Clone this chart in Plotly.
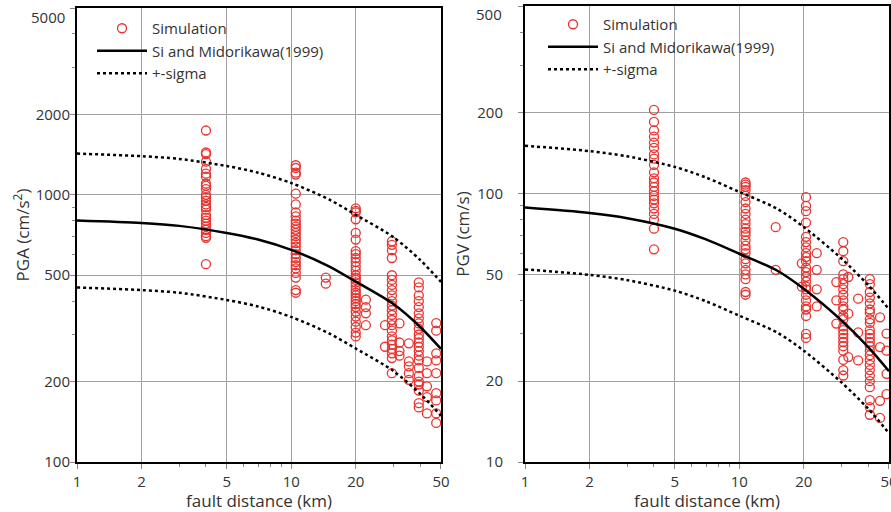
import plotly.graph_objects as go
import numpy as np

# ---------------- data ----------------
curve_x = [1, 2, 3, 5, 7, 10, 15, 20, 30, 40, 50]

pga_median = [801, 784, 765, 720, 680, 622, 540, 473, 390, 320, 265]
pga_upper = [1426, 1395, 1362, 1282, 1210, 1107, 961, 842, 694, 570, 472]
pga_lower = [450, 440, 430, 404, 382, 349, 303, 266, 219, 180, 149]

pgv_median = [88.7, 84.7, 81, 74, 67.5, 59.7, 51.7, 44.2, 33.7, 26.8, 21.8]
pgv_upper = [150.8, 144, 137.7, 125.8, 114.8, 101.5, 87.9, 75.1, 57.3, 45.6, 37.1]
pgv_lower = [52.2, 49.8, 47.6, 43.5, 39.7, 35.1, 30.4, 26.0, 19.8, 15.8, 12.8]

# simulation points: (distance, list of values)
pga_groups = [
    (4.0, [1740, 1440, 1420, 1330, 1250, 1200, 1170, 1100, 1080, 1050, 1000, 980,
           950, 920, 900, 880, 840, 820, 800, 780, 760, 740, 720, 700, 690, 550]),
    (10.5, [1290, 1260, 1210, 1190, 1010, 920, 860, 830, 800, 780, 760, 740, 720,
            700, 680, 660, 640, 620, 600, 580, 560, 545, 530, 510, 490, 440, 430]),
    (14.5, [490, 465]),
    (20.0, [890, 870, 860, 810, 720, 680, 615, 600, 580, 560, 540, 520, 500, 490,
            480, 470, 455, 440, 430, 420, 410, 400, 390, 380, 365, 350, 335, 320, 305, 295]),
    (22.3, [405, 380, 360, 325]),
    (27.4, [325, 270]),
    (29.5, [670, 650, 620, 580, 500, 480, 460, 440, 420, 400, 385, 370, 355, 340,
            325, 310, 295, 285, 275, 265, 255, 245, 215]),
    (32.0, [330, 280, 260, 250]),
    (35.4, [278, 238, 228, 215, 203]),
    (39.4, [470, 450, 420, 400, 380, 360, 345, 330, 315, 300, 290, 280, 270, 260,
            250, 240, 225, 210, 200, 195, 185, 166, 160]),
    (43.0, [238, 215, 192, 175, 152]),
    (47.5, [331, 310, 255, 240, 215, 181, 170, 152, 140]),
]

pgv_groups = [
    (4.0, [205, 185, 172, 163, 155, 148, 140, 135, 128, 120, 114, 110, 106, 102,
           98, 95, 92, 88, 84, 80, 74, 62]),
    (10.7, [110, 108, 106, 103, 98, 93, 88, 84, 80, 77, 74, 72, 70, 67, 64, 62,
            60, 57, 55, 52, 50, 48, 43, 42]),
    (14.8, [75, 52]),
    (19.6, [55, 45]),
    (20.5, [97, 90, 86, 78, 69, 66, 63, 60, 58, 56, 53, 51, 49, 47, 45, 44, 42,
            40, 38, 37, 35, 30, 29]),
    (23.0, [60, 52, 44, 38]),
    (28.4, [46.8, 40, 32.8]),
    (30.6, [66, 61, 56, 50, 48, 46, 44, 42, 40, 38, 37, 35, 34, 32, 31, 30, 29,
            28, 27, 26, 24, 22, 21]),
    (32.3, [48.9, 35.7, 24.6]),
    (35.9, [40.6, 30.4, 23.9]),
    (40.7, [48, 46, 43, 41, 39, 37, 36, 34, 33, 31, 30, 29, 28, 27, 26, 25, 24,
            23, 22, 21, 20, 19, 17, 16, 15]),
    (45.4, [34.6, 26.8, 16.9, 14.6]),
    (48.7, [30.1, 26, 21.3, 17.9]),
]

x_tickvals = [1, 2, 5, 10, 20, 50]
x_minor = [3, 4, 6, 7, 8, 9, 30, 40]
pga_tickvals = [100, 200, 500, 1000, 2000, 5000]
pga_minor = [300, 400, 600, 700, 800, 900, 3000, 4000]
pgv_tickvals = [10, 20, 50, 100, 200, 500]
pgv_minor = [30, 40, 60, 70, 80, 90, 300, 400]

# ---------------- styling ----------------
RED = "#e8322e"
FONT = "Open Sans"
TXT = "#333333"
W, H = 891, 512

def flatten(groups):
    xs, ys = [], []
    for d, vals in groups:
        xs += [d] * len(vals)
        ys += vals
    return xs, ys

fig = go.Figure()

panels = [
    dict(xa="x", ya="y", legend="legend", groups=pga_groups,
         med=pga_median, up=pga_upper, lo=pga_lower),
    dict(xa="x2", ya="y2", legend="legend2", groups=pgv_groups,
         med=pgv_median, up=pgv_upper, lo=pgv_lower),
]

for p in panels:
    sx, sy = flatten(p["groups"])
    fig.add_trace(go.Scatter(
        x=sx, y=sy, mode="markers", name="Simulation",
        marker=dict(symbol="circle-open", size=9, color=RED,
                    line=dict(width=1.3, color=RED)),
        xaxis=p["xa"], yaxis=p["ya"], legend=p["legend"]))
    fig.add_trace(go.Scatter(
        x=curve_x, y=p["med"], mode="lines", name="Si and Midorikawa(1999)",
        line=dict(color="black", width=2.5, shape="spline", smoothing=0.8),
        xaxis=p["xa"], yaxis=p["ya"], legend=p["legend"]))
    fig.add_trace(go.Scatter(
        x=curve_x, y=p["up"], mode="lines", name="+-sigma",
        line=dict(color="black", width=2.5, dash="dot", shape="spline", smoothing=0.8),
        xaxis=p["xa"], yaxis=p["ya"], legend=p["legend"]))
    fig.add_trace(go.Scatter(
        x=curve_x, y=p["lo"], mode="lines", name="+-sigma", showlegend=False,
        line=dict(color="black", width=2.5, dash="dot", shape="spline", smoothing=0.8),
        xaxis=p["xa"], yaxis=p["ya"], legend=p["legend"]))

def px_x(v):
    return v / W

def px_y(v):
    return 1 - v / H

common_axis = dict(
    type="log", showline=True, mirror=True, linecolor="black", linewidth=2,
    showgrid=True, gridcolor="#a0a0a0", gridwidth=1,
    ticks="outside", ticklen=5, tickcolor="#888888", tickwidth=1,
    tickfont=dict(family=FONT, size=15, color=TXT),
    zeroline=False, automargin=False, ticklabeloverflow="allow",
)

xaxis_common = dict(common_axis, tickmode="array", tickvals=x_tickvals,
                    ticktext=[str(v) for v in x_tickvals],
                    minor=dict(tickmode="array", tickvals=x_minor, ticks="outside",
                               ticklen=3, tickcolor="#888888", showgrid=False),
                    range=[0, np.log10(50) + 1e-4],
                    title=dict(text="fault distance (km)",
                               font=dict(family=FONT, size=17, color=TXT), standoff=6))

def ylabels(vals):
    # top label is drawn as an annotation (offset below the frame, as in the original)
    return [str(v) for v in vals[:-1]] + [""]

fig.update_layout(
    width=W, height=H, margin=dict(l=0, r=0, t=0, b=0),
    paper_bgcolor="white", plot_bgcolor="white",
    xaxis=dict(xaxis_common, domain=[px_x(77), px_x(441)], anchor="y"),
    xaxis2=dict(xaxis_common, domain=[px_x(525), px_x(889)], anchor="y2"),
    yaxis=dict(common_axis, domain=[px_y(462), px_y(8)], anchor="x",
               tickmode="array", tickvals=pga_tickvals,
               ticktext=ylabels(pga_tickvals), ticklabelstandoff=-3,
               minor=dict(tickmode="array", tickvals=pga_minor, ticks="outside",
                          ticklen=3, tickcolor="#888888", showgrid=False),
               range=[2, np.log10(5000) + 1e-4],
               title=dict(text="PGA (cm/s<sup>2</sup>)",
                          font=dict(family=FONT, size=17, color=TXT), standoff=2)),
    yaxis2=dict(common_axis, domain=[px_y(462), px_y(6)], anchor="x2",
                tickmode="array", tickvals=pgv_tickvals,
                ticktext=ylabels(pgv_tickvals), ticklabelstandoff=12,
                minor=dict(tickmode="array", tickvals=pgv_minor, ticks="outside",
                           ticklen=3, tickcolor="#888888", showgrid=False),
                range=[1, np.log10(500) + 1e-4],
                title=dict(text="PGV (cm/s)",
                           font=dict(family=FONT, size=17, color=TXT), standoff=3)),
    legend=dict(x=px_x(92), y=px_y(12), xanchor="left", yanchor="top",
                bgcolor="rgba(0,0,0,0)", font=dict(family=FONT, size=15, color=TXT),
                itemwidth=50, tracegroupgap=0),
    legend2=dict(x=px_x(543), y=px_y(8), xanchor="left", yanchor="top",
                 bgcolor="rgba(0,0,0,0)", font=dict(family=FONT, size=15, color=TXT),
                 itemwidth=50, tracegroupgap=0),
    annotations=[
        dict(text=str(pga_tickvals[-1]), xref="paper", yref="paper",
             x=px_x(67), y=px_y(17), xanchor="right", yanchor="middle",
             showarrow=False, font=dict(family=FONT, size=15, color=TXT)),
        dict(text=str(pgv_tickvals[-1]), xref="paper", yref="paper",
             x=px_x(504), y=px_y(14), xanchor="right", yanchor="middle",
             showarrow=False, font=dict(family=FONT, size=15, color=TXT)),
    ],
)

fig.write_html("out.html", post_script="document.body.style.margin='0';",
               config={"displayModeBar": False})
